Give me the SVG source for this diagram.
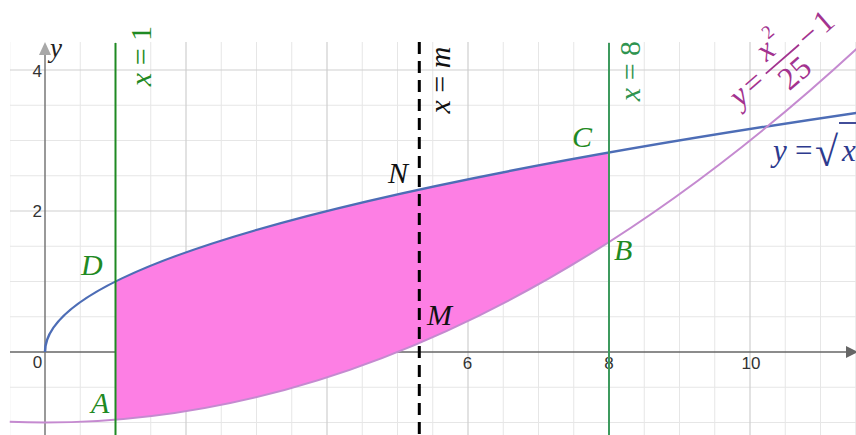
<svg xmlns="http://www.w3.org/2000/svg" width="856" height="435" viewBox="0 0 856 435">
<style>
.minor{stroke:#e6e6e6;stroke-width:1}
.major{stroke:#cfcfcf;stroke-width:1.2}
.tick{font-family:"Liberation Sans",Arial,sans-serif;font-size:17px;fill:#333}
.lbl{font-family:"Liberation Serif","Times New Roman",serif;font-style:italic;font-size:30px}
.eq{font-family:"Liberation Serif","Times New Roman",serif;font-size:30px}
.it{font-style:italic}
.green{fill:#1f8a23}
</style>
<defs>
<clipPath id="plot"><rect x="10" y="42" width="846" height="393"/></clipPath>
</defs>
<rect width="856" height="435" fill="#ffffff"/>
<g id="grid" clip-path="url(#plot)">
<g class="minor">
<path d="M9.75 42V435M80.25 42V435M115.5 42V435M150.75 42V435M221.25 42V435M256.5 42V435M291.75 42V435M362.25 42V435M397.5 42V435M432.75 42V435M503.25 42V435M538.5 42V435M573.75 42V435M644.25 42V435M679.5 42V435M714.75 42V435M785.25 42V435M820.5 42V435M855.75 42V435"/>
<path d="M10 105.25H856M10 140.5H856M10 175.75H856M10 246.25H856M10 281.5H856M10 316.75H856M10 387.25H856M10 422.5H856"/>
</g>
<g class="major">
<path d="M186 42V435M327 42V435M468 42V435M609 42V435M750 42V435M10 70H856M10 211H856"/>
</g>
</g>
<g id="axes">
<line x1="10" y1="352" x2="848" y2="352" stroke="#666" stroke-width="1.5"/>
<polygon points="846,346 858,352 846,358" fill="#666"/>
<line x1="45" y1="435" x2="45" y2="52" stroke="#777" stroke-width="1.5"/>
<polygon points="39,55 45,42 51,55" fill="#a8a8a8"/>
<text x="50" y="57" class="lbl" style="font-size:27px" fill="#222">y</text>
<text class="tick" x="42" y="77" text-anchor="end">4</text>
<text class="tick" x="42" y="217" text-anchor="end">2</text>
<text class="tick" x="37.5" y="368" text-anchor="middle">0</text>
<text class="tick" x="467.5" y="369" text-anchor="middle">6</text>
<text class="tick" x="609" y="369" text-anchor="middle">8</text>
<text class="tick" x="751" y="369" text-anchor="middle">10</text>
</g>
<g id="region">
<path d="M115.5 281.5Q244.41 217.05 609 152.59L609 242.02Q362.25 399.94 115.5 419.68Z" fill="#fd7fe4"/>
</g>
<g id="connectors" fill="none">
<path id="curve-sqrt" d="M45 352Q45 231.945 862.8 111.89" stroke="#4d6db6" stroke-width="2.5"/>
<path id="curve-parabola" d="M9.75 421.8Q436.28 438.86 862.8 43.04" stroke="#c58ad0" stroke-width="2"/>
<line id="line-x1" x1="115.5" y1="43" x2="115.5" y2="435" stroke="#1f8a23" stroke-width="2"/>
<line id="line-x8" x1="609" y1="43" x2="609" y2="435" stroke="#3e9a5e" stroke-width="2"/>
<line id="line-xm" x1="419.3" y1="42" x2="419.3" y2="435" stroke="#000" stroke-width="3" stroke-dasharray="12 7"/>
</g>
<g id="label-x1"><text class="eq green" transform="translate(151,56) rotate(-90)" text-anchor="middle"><tspan class="it">x</tspan> = 1</text></g>
<g id="label-xm"><text class="eq" fill="#111" transform="translate(450,80) rotate(-90)" text-anchor="middle"><tspan class="it">x</tspan> = <tspan class="it">m</tspan></text></g>
<g id="label-x8"><text class="eq" fill="#2f9450" transform="translate(640,71) rotate(-90)" text-anchor="middle"><tspan class="it">x</tspan> = 8</text></g>
<g id="point-A"><text class="lbl green" x="91" y="413">A</text></g>
<g id="point-B"><text class="lbl green" x="614" y="260">B</text></g>
<g id="point-C"><text class="lbl green" x="572" y="147">C</text></g>
<g id="point-D"><text class="lbl green" x="81" y="275">D</text></g>
<g id="point-N"><text class="lbl" fill="#111" x="388" y="183">N</text></g>
<g id="point-M"><text class="lbl" fill="#111" x="427" y="325">M</text></g>
<g id="label-parabola" transform="translate(740,108) rotate(-41)" fill="#a3338f">
<text class="eq it" x="0" y="0" style="font-size:32px">y</text>
<text class="eq" x="18" y="0" style="font-size:32px">=</text>
<line x1="42" y1="-9" x2="86" y2="-9" stroke="#a3338f" stroke-width="1.8"/>
<text class="eq it" x="50" y="-17" style="font-size:32px">x</text>
<text class="eq" x="66" y="-33" style="font-size:19px">2</text>
<text class="eq" x="64" y="20" text-anchor="middle" style="font-size:32px">25</text>
<text class="eq" x="90" y="0" style="font-size:32px">−</text>
<text class="eq" x="112" y="0" style="font-size:32px">1</text>
</g>
<g id="label-sqrt" fill="#2d3a8e">
<text class="eq it" x="773" y="161" style="font-size:31px">y</text>
<text class="eq" x="795" y="161" style="font-size:31px">=</text>
<text class="eq" x="815" y="166" style="font-size:42px">√</text>
<line x1="839" y1="123" x2="856" y2="123" stroke="#2d3a8e" stroke-width="1.8"/>
<text class="eq it" x="842" y="161" style="font-size:31px">x</text>
</g>
</svg>
